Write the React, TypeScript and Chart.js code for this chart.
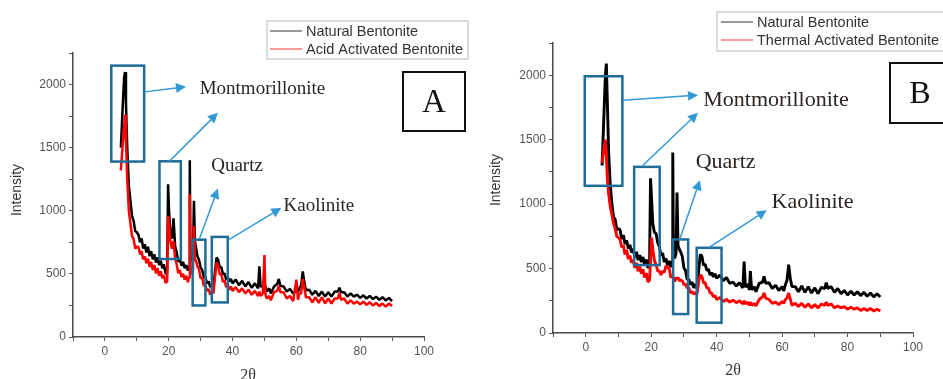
import React, { useEffect, useRef } from "react";
import { Chart, registerables } from "chart.js";
Chart.register(...registerables);

// 2θ positions shared by all four patterns
const twoTheta = [
  5, 5.5, 6, 6.3, 6.6, 7, 7.5, 8, 8.5, 9, 9.5, 10,
  10.5, 11, 11.5, 12, 12.5, 13, 13.5, 14, 14.5, 15, 15.5, 16, 16.5, 17, 17.5, 18, 18.5, 19, 19.5,
  19.8, 20.1, 20.5, 21, 21.5, 22, 22.5, 23, 23.5, 24, 24.5, 25, 25.5, 26,
  26.4, 26.6, 26.8, 27.2, 27.6, 27.9, 28.2, 28.6, 29,
  29.5, 30, 30.5, 31, 31.5, 32, 32.5, 33, 33.5, 34, 34.5, 35, 35.5, 36, 36.5, 37, 37.5, 38, 38.5, 39, 39.5, 40,
  41, 42, 43, 44, 45, 46, 47, 48, 48.4, 48.8, 49.5, 50, 50.3, 50.7, 51.5, 52, 53, 54, 54.5, 55, 56, 57, 58, 59, 60, 60.5, 61, 61.5, 62, 62.5, 63,
  64, 65, 66, 67, 68, 69, 70, 71, 72, 73, 73.5, 74, 75, 76, 77, 78, 79, 80, 81, 82, 83, 84, 85, 86, 87, 88, 89, 90,
];

// Panel A
const naturalA = [
  1500, 1780, 2050, 2100, 1850, 1500, 1200, 1080, 960, 920, 840, 830,
  810, 750, 780, 700, 735, 670, 715, 640, 680, 615, 655, 590, 630, 570, 605, 545, 575, 505, 500,
  1210, 1000, 820, 780, 940, 720, 670, 595, 620, 565, 595, 545, 570, 525,
  560, 1400, 620, 600, 640, 1080, 760, 700, 640,
  610, 550, 530, 475, 470, 425, 440, 395, 420, 405, 520, 630, 610, 550, 555, 495, 505, 455, 475, 440, 460, 425,
  455, 410, 445, 400, 435, 390, 425, 385, 560, 400, 400, 370, 405, 360, 385, 345, 400, 420, 460, 405, 400, 360, 380, 345, 370, 355, 390, 410, 520, 435, 370,
  375, 335, 365, 325, 360, 320, 355, 320, 360, 360, 390, 355, 355, 320, 345, 320, 335, 310, 330, 305, 325, 300, 320, 295, 315, 290, 310, 285,
];
const acidA = [
  1320, 1500, 1650, 1760, 1550, 1250, 1000, 900, 800, 775, 700, 715,
  715, 655, 680, 615, 640, 585, 620, 555, 595, 530, 570, 505, 545, 485, 520, 465, 490, 430, 440,
  960, 900, 760, 700, 760, 620, 575, 505, 530, 475, 500, 455, 485, 435,
  470, 1130, 520, 500, 540, 880, 620, 600, 560,
  535, 465, 470, 405, 410, 365, 380, 335, 360, 345, 470, 590, 560, 495, 500, 435, 450, 395, 415, 375, 400, 365,
  395, 355, 385, 345, 375, 335, 365, 325, 360, 325, 345, 650, 340, 305, 325, 290, 355, 365, 405, 355, 355, 305, 325, 285, 455, 295, 345, 345, 460, 390, 315,
  315, 275, 315, 270, 315, 265, 305, 265, 305, 305, 350, 295, 305, 265, 290, 265, 280, 260, 280, 255, 275, 250, 270, 245, 265, 240, 265, 245,
];

// Panel B
const naturalB = [
  1300, 1650, 2000, 2090, 1800, 1400, 1150, 1000, 900, 880, 800, 810,
  800, 730, 760, 690, 720, 655, 685, 625, 655, 585, 630, 565, 605, 550, 590, 530, 570, 505, 530,
  1200, 1050, 850, 780, 770, 700, 670, 600, 620, 550, 580, 525, 560, 510,
  555, 1400, 600, 580, 620, 1090, 680, 650, 630,
  595, 505, 485, 415, 415, 375, 395, 350, 380, 345, 480, 610, 595, 525, 535, 485, 495, 450, 470, 435, 460, 425,
  450, 405, 430, 385, 395, 365, 390, 350, 555, 355, 380, 335, 480, 335, 360, 320, 385, 395, 440, 385, 390, 345, 370, 330, 360, 325, 375, 410, 530, 425, 360,
  360, 320, 365, 315, 360, 310, 350, 305, 355, 345, 390, 345, 360, 315, 345, 305, 330, 295, 325, 295, 320, 290, 315, 285, 310, 280, 305, 280,
];
const thermalB = [
  1320, 1420, 1500, 1380, 1200, 1080, 980, 920, 850, 810, 750, 740,
  725, 665, 680, 610, 645, 575, 600, 545, 570, 505, 545, 480, 515, 460, 495, 430, 465, 395, 410,
  560, 740, 650, 560, 530, 480, 480, 450, 480, 470, 520, 510, 500, 430,
  440, 440, 430, 400, 430, 420, 430, 405, 410,
  405, 375, 380, 350, 350, 310, 325, 300, 315, 300, 400, 450, 440, 390, 390, 350, 350, 310, 310, 280, 290, 260,
  275, 245, 260, 240, 255, 235, 250, 225, 250, 225, 240, 215, 240, 215, 230, 210, 260, 280, 310, 270, 260, 230, 240, 220, 245, 230, 260, 270, 310, 265, 215,
  230, 205, 230, 200, 225, 195, 220, 195, 225, 215, 240, 215, 225, 195, 210, 195, 205, 185, 200, 185, 195, 175, 190, 175, 190, 170, 185, 170,
];

const seriesNamesA = ["Natural Bentonite", "Acid Activated Bentonite"];
const seriesNamesB = ["Natural Bentonite", "Thermal Activated Bentonite"];
const phaseLabels = ["Montmorillonite", "Quartz", "Kaolinite"];

// annotation rectangles in data units [x0, x1, y0, y1]
const boxesA = [[2, 12.3, 1390, 2150], [17.1, 23.8, 618, 1392], [27.5, 31.5, 250, 771], [33.5, 38.5, 274, 793]];
const arrowsA = [[12.5, 1942, 25.4, 1982], [20.2, 1392, 35.4, 1776], [29.6, 777, 35.4, 1176], [38.5, 766, 55.3, 1023]];
const labelPosA = [[29.7, 1966], [33.3, 1352], [56, 1035]];

const boxesB = [[-0.3, 11.2, 1142, 1992], [14.8, 22.6, 527, 1289], [26.7, 31.3, 147, 726], [33.9, 41.5, 80, 661]];
const arrowsB = [[11.4, 1806, 34.3, 1845], [17.5, 1302, 34.3, 1708], [28.7, 726, 34.9, 1186], [37.7, 664, 55.3, 953]];
const labelPosB = [[35.9, 1806], [33.6, 1323], [56.8, 1018]];

const H = 379;

type Panel = {
  width: number;
  area: { left: number; right: number; top: number; bottom: number };
  natural: number[];
  treated: number[];
  names: string[];
  boxes: number[][];
  arrows: number[][];
  labelPos: number[][];
  labelSize: number;
  legend: { x: number; y: number; w: number; h: number; lineX: number; textX: number; row1: number; row2: number };
  letter: { x: number; y: number; w: number; h: number; text: string; size: number };
  yTitle: { x: number; y: number };
  xTitle: { x: number; y: number };
  lineW: number;
};

const panelA: Panel = {
  width: 470,
  area: { left: 73, right: 424, top: 53, bottom: 337 },
  natural: naturalA,
  treated: acidA,
  names: seriesNamesA,
  boxes: boxesA,
  arrows: arrowsA,
  labelPos: labelPosA,
  labelSize: 19,
  legend: { x: 267, y: 21, w: 201, h: 38, lineX: 270, textX: 306, row1: 31, row2: 49 },
  letter: { x: 403, y: 72, w: 62, h: 59, text: "A", size: 33 },
  yTitle: { x: 17, y: 190 },
  xTitle: { x: 248, y: 376 },
  lineW: 2.5,
};

const panelB: Panel = {
  width: 473,
  area: { left: 83, right: 443, top: 43, bottom: 333 },
  natural: naturalB,
  treated: thermalB,
  names: seriesNamesB,
  boxes: boxesB,
  arrows: arrowsB,
  labelPos: labelPosB,
  labelSize: 22,
  legend: { x: 247, y: 12, w: 240, h: 39, lineX: 251, textX: 287, row1: 22, row2: 40 },
  letter: { x: 420, y: 63, w: 60, h: 60, text: "B", size: 32 },
  yTitle: { x: 26, y: 180 },
  xTitle: { x: 263, y: 371 },
  lineW: 2.9,
};

const BOX_COLOR = "#1d6b97";
const ARROW_COLOR = "#3399d4";

function overlay(p: Panel) {
  return {
    id: "overlay",
    afterDraw(chart: any) {
      const { ctx } = chart;
      const xs = chart.scales.x;
      const ys = chart.scales.y;
      const px = (v: number) => xs.getPixelForValue(v);
      const py = (v: number) => ys.getPixelForValue(v);
      ctx.save();
      // boxes
      ctx.strokeStyle = BOX_COLOR;
      ctx.lineWidth = 2.5;
      p.boxes.forEach((b) => {
        const x0 = px(b[0]), x1 = px(b[1]), y0 = py(b[3]), y1 = py(b[2]);
        ctx.strokeRect(x0, y0, x1 - x0, y1 - y0);
      });
      // arrows
      ctx.strokeStyle = ARROW_COLOR;
      ctx.fillStyle = ARROW_COLOR;
      ctx.lineWidth = 1.5;
      p.arrows.forEach((a) => {
        const x0 = px(a[0]), y0 = py(a[1]), x1 = px(a[2]), y1 = py(a[3]);
        const ang = Math.atan2(y1 - y0, x1 - x0);
        const hl = 10, hw = 5;
        const bx = x1 - hl * Math.cos(ang), by = y1 - hl * Math.sin(ang);
        ctx.beginPath();
        ctx.moveTo(x0, y0);
        ctx.lineTo(bx, by);
        ctx.stroke();
        ctx.beginPath();
        ctx.moveTo(x1, y1);
        ctx.lineTo(bx + hw * Math.sin(ang), by - hw * Math.cos(ang));
        ctx.lineTo(bx - hw * Math.sin(ang), by + hw * Math.cos(ang));
        ctx.closePath();
        ctx.fill();
      });
      // phase labels
      ctx.fillStyle = "#2b2522";
      ctx.font = `${p.labelSize}px "Liberation Serif", "Times New Roman", serif`;
      ctx.textBaseline = "middle";
      ctx.textAlign = "left";
      p.labelPos.forEach((l, i) => ctx.fillText(phaseLabels[i], px(l[0]), py(l[1])));
      // legend
      const lg = p.legend;
      ctx.strokeStyle = "#c4c4c4";
      ctx.lineWidth = 1.2;
      ctx.strokeRect(lg.x, lg.y, lg.w, lg.h);
      ctx.lineWidth = 1;
      ctx.strokeStyle = "#333";
      ctx.beginPath(); ctx.moveTo(lg.lineX, lg.row1); ctx.lineTo(lg.lineX + 32, lg.row1); ctx.stroke();
      ctx.strokeStyle = "#ff3333";
      ctx.beginPath(); ctx.moveTo(lg.lineX, lg.row2); ctx.lineTo(lg.lineX + 32, lg.row2); ctx.stroke();
      ctx.fillStyle = "#333";
      ctx.font = `14.5px "Liberation Sans", Arial, sans-serif`;
      ctx.fillText(p.names[0], lg.textX, lg.row1 + 1);
      ctx.fillText(p.names[1], lg.textX, lg.row2 + 1);
      // letter box
      const lt = p.letter;
      ctx.strokeStyle = "#111";
      ctx.lineWidth = 2;
      ctx.strokeRect(lt.x, lt.y, lt.w, lt.h);
      ctx.fillStyle = "#111";
      ctx.textAlign = "center";
      ctx.font = `${lt.size}px "Liberation Serif", "Times New Roman", serif`;
      ctx.fillText(lt.text, lt.x + lt.w / 2, lt.y + lt.h / 2 + 2);
      // axis titles
      ctx.fillStyle = "#333";
      ctx.font = `16px "Liberation Serif", serif`;
      ctx.fillText("2θ", p.xTitle.x, p.xTitle.y);
      ctx.save();
      ctx.translate(p.yTitle.x, p.yTitle.y);
      ctx.rotate(-Math.PI / 2);
      ctx.font = `14px "Liberation Sans", Arial, sans-serif`;
      ctx.fillText("Intensity", 0, 0);
      ctx.restore();
      ctx.restore();
    },
  };
}

function makeChart(canvas: HTMLCanvasElement, p: Panel) {
  const tickFont = { family: "Liberation Sans", size: 12 };
  return new Chart(canvas, {
    type: "line",
    data: {
      datasets: [
        {
          label: p.names[1],
          data: twoTheta.map((t, i) => ({ x: t, y: p.treated[i] })),
          borderColor: "#ff0000",
          borderWidth: p.lineW,
          borderJoinStyle: "bevel",
          pointRadius: 0,
          order: 0,
        },
        {
          label: p.names[0],
          data: twoTheta.map((t, i) => ({ x: t, y: p.natural[i] })),
          borderColor: "#000000",
          borderWidth: p.lineW,
          borderJoinStyle: "bevel",
          pointRadius: 0,
          order: 1,
        },
      ],
    },
    options: {
      responsive: false,
      animation: false,
      devicePixelRatio: 1,
      layout: { padding: { left: 0, top: p.area.top, right: p.width - p.area.right, bottom: 0 } },
      plugins: { legend: { display: false }, tooltip: { enabled: false } },
      scales: {
        x: {
          type: "linear",
          min: -10,
          max: 100,
          ticks: {
            stepSize: 10,
            autoSkip: false,
            maxRotation: 0,
            color: "#555",
            font: tickFont,
            padding: 3,
            callback: (v: any) => (v >= 0 && v % 20 === 0 ? String(v) : ""),
          },
          grid: { drawOnChartArea: false, drawTicks: true, tickLength: 4, color: "#555" },
          border: { color: "#4a4a4a", width: 1.5 },
          afterFit: (s: any) => {
            s.height = H - p.area.bottom;
          },
        },
        y: {
          type: "linear",
          min: 0,
          max: 2250,
          ticks: {
            stepSize: 250,
            autoSkip: false,
            color: "#555",
            font: tickFont,
            padding: 3,
            callback: (v: any) => (v % 500 === 0 ? String(v) : ""),
          },
          grid: { drawOnChartArea: false, drawTicks: true, tickLength: 4, color: "#555" },
          border: { color: "#4a4a4a", width: 1.5 },
          afterFit: (s: any) => {
            s.width = p.area.left;
          },
        },
      },
    },
    plugins: [overlay(p)],
  } as any);
}

function PanelChart({ p, left }: { p: Panel; left: number }) {
  const ref = useRef<HTMLCanvasElement | null>(null);
  useEffect(() => {
    if (!ref.current) return;
    const c = makeChart(ref.current, p);
    return () => c.destroy();
  }, [p]);
  return (
    <canvas
      ref={ref}
      width={p.width}
      height={H}
      style={{ position: "absolute", left, top: 0, width: p.width, height: H }}
    />
  );
}

export default function App() {
  return (
    <div
      style={{
        position: "fixed",
        left: 0,
        top: 0,
        width: 943,
        height: H,
        overflow: "hidden",
        background: "#fff",
      }}
    >
      <PanelChart p={panelA} left={0} />
      <PanelChart p={panelB} left={470} />
    </div>
  );
}
